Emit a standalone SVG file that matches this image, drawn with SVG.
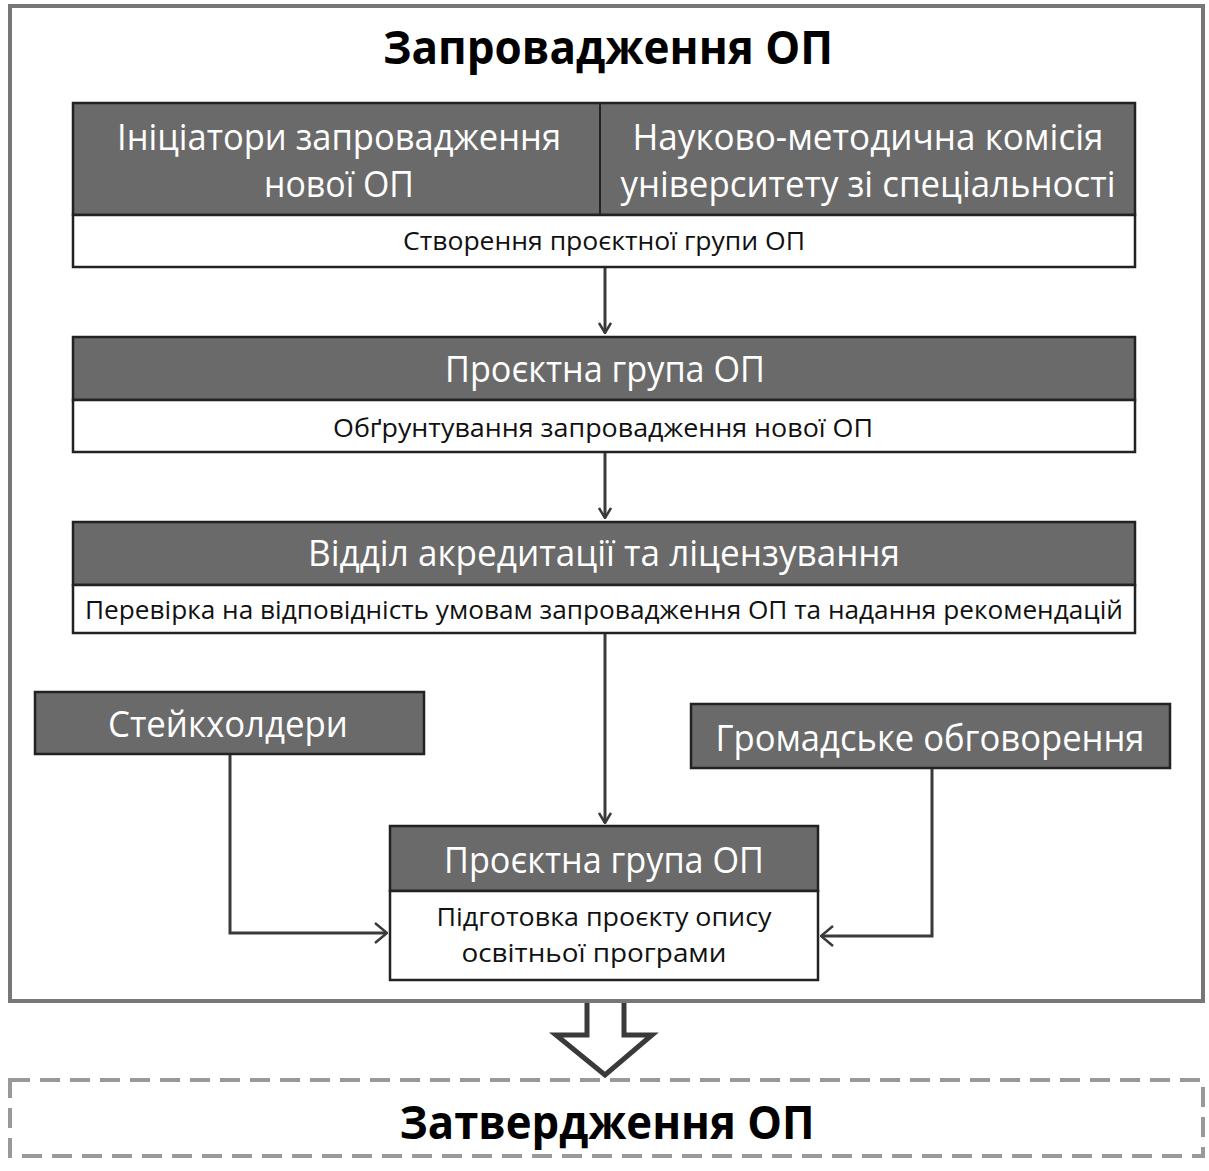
<svg xmlns="http://www.w3.org/2000/svg" width="1209" height="1171" viewBox="0 0 1209 1171">
<style>
.hdr{fill:#6a6a6a;stroke:#222;stroke-width:2.5}
.wht{fill:#fff;stroke:#222;stroke-width:2.5}
.ht{font-family:"Open Sans","Noto Sans",sans-serif;font-size:36px;fill:#fff;text-anchor:middle}
.bt{font-family:"Open Sans","Noto Sans",sans-serif;font-size:25px;fill:#111;text-anchor:middle}
.tt{font-family:"Open Sans","Noto Sans",sans-serif;font-size:46px;font-weight:bold;fill:#000;text-anchor:middle}
.con{fill:none;stroke:#3a3a3a;stroke-width:3}
</style>
<defs>
<marker id="ah" viewBox="0 0 12 14" refX="11" refY="7" markerWidth="12" markerHeight="14" markerUnits="userSpaceOnUse" orient="auto">
<path d="M1,1 L11,7 L1,13" fill="none" stroke="#3a3a3a" stroke-width="2.5"/>
</marker>
<marker id="ah2" viewBox="0 0 14 22" refX="13" refY="11" markerWidth="14" markerHeight="22" markerUnits="userSpaceOnUse" orient="auto">
<path d="M1,1 L13,11 L1,21" fill="none" stroke="#3a3a3a" stroke-width="2.5"/>
</marker>
</defs>
<rect width="1209" height="1171" fill="#fff"/>
<g id="frame">
<rect x="10" y="6" width="1193" height="995" fill="none" stroke="#777" stroke-width="4"/>
<text class="tt" x="608" y="64" textLength="450" lengthAdjust="spacingAndGlyphs">Запровадження ОП</text>
</g>
<g id="node-initiators">
<rect class="hdr" x="73" y="103" width="1062" height="112"/>
<line x1="600" y1="103" x2="600" y2="215" stroke="#222" stroke-width="2"/>
<text class="ht" x="339" y="150" textLength="444" lengthAdjust="spacingAndGlyphs">Ініціатори запровадження</text>
<text class="ht" x="339" y="197" textLength="150" lengthAdjust="spacingAndGlyphs">нової ОП</text>
<text class="ht" x="868" y="150" textLength="471" lengthAdjust="spacingAndGlyphs">Науково-методична комісія</text>
<text class="ht" x="868" y="197" textLength="495" lengthAdjust="spacingAndGlyphs">університету зі спеціальності</text>
<rect class="wht" x="73" y="215" width="1062" height="52"/>
<text class="bt" x="604" y="250" textLength="402" lengthAdjust="spacingAndGlyphs">Створення проєктної групи ОП</text>
</g>
<g id="node-project1">
<rect class="hdr" x="73" y="337" width="1062" height="63"/>
<text class="ht" x="605" y="382" textLength="320" lengthAdjust="spacingAndGlyphs">Проєктна група ОП</text>
<rect class="wht" x="73" y="400" width="1062" height="52"/>
<text class="bt" x="603" y="437" textLength="540" lengthAdjust="spacingAndGlyphs">Обґрунтування запровадження нової ОП</text>
</g>
<g id="node-accred">
<rect class="hdr" x="73" y="522" width="1062" height="63"/>
<text class="ht" x="604" y="566" textLength="592" lengthAdjust="spacingAndGlyphs">Відділ акредитації та ліцензування</text>
<rect class="wht" x="73" y="585" width="1062" height="48"/>
<text class="bt" x="604" y="619" textLength="1038" lengthAdjust="spacingAndGlyphs">Перевірка на відповідність умовам запровадження ОП та надання рекомендацій</text>
</g>
<g id="node-stakeholders">
<rect class="hdr" x="35" y="692" width="389" height="62"/>
<text class="ht" x="228" y="737" textLength="240" lengthAdjust="spacingAndGlyphs">Стейкхолдери</text>
</g>
<g id="node-public">
<rect class="hdr" x="691" y="704" width="479" height="64"/>
<text class="ht" x="930" y="751" textLength="429" lengthAdjust="spacingAndGlyphs">Громадське обговорення</text>
</g>
<g id="node-project2">
<rect class="hdr" x="390" y="826" width="428" height="65"/>
<text class="ht" x="604" y="873" textLength="320" lengthAdjust="spacingAndGlyphs">Проєктна група ОП</text>
<rect class="wht" x="390" y="891" width="428" height="89"/>
<text class="bt" x="604" y="926" textLength="335" lengthAdjust="spacingAndGlyphs">Підготовка проєкту опису</text>
<text class="bt" x="594" y="962" textLength="265" lengthAdjust="spacingAndGlyphs">освітньої програми</text>
</g>
<g id="connectors">
<line class="con" x1="605" y1="268" x2="605" y2="333" marker-end="url(#ah)"/>
<line class="con" x1="605" y1="453" x2="605" y2="518" marker-end="url(#ah)"/>
<line class="con" x1="605" y1="634" x2="605" y2="823" marker-end="url(#ah)"/>
<polyline class="con" points="230,755 230,933 387,933" marker-end="url(#ah2)"/>
<polyline class="con" points="932,769 932,936 821,936" marker-end="url(#ah2)"/>
<path d="M587,1003 L587,1035 L556,1035 L605,1075 L652,1035 L624,1035 L624,1003" fill="#fff" stroke="#3a3a3a" stroke-width="5" stroke-linejoin="miter"/>
</g>
<g id="node-approval">
<rect x="10" y="1080" width="1193" height="76" fill="none" stroke="#999" stroke-width="4" stroke-dasharray="20 10"/>
<text class="tt" x="607" y="1139" textLength="415" lengthAdjust="spacingAndGlyphs">Затвердження ОП</text>
</g>
</svg>
